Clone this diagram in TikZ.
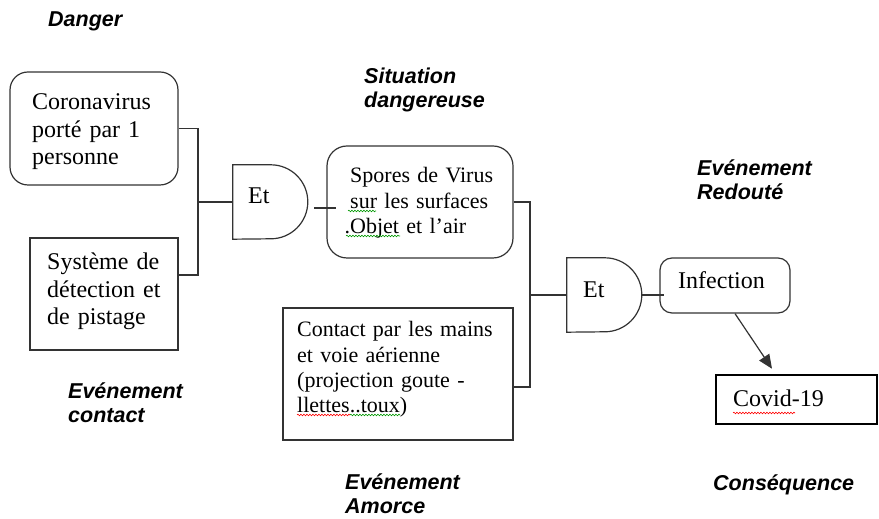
\documentclass[tikz,border=0pt]{standalone}
\usepackage{fontspec}
\setmainfont{Liberation Serif}
\setsansfont{Liberation Sans}
\usetikzlibrary{arrows.meta,decorations.pathmorphing,calc}
\begin{document}
\begin{tikzpicture}[x=1pt,y=1pt,
  box/.style={draw=black!80, line width=1.2pt, fill=white, inner sep=0},
  rbox/.style={box, rounded corners=#1},
  txtL/.style={anchor=base west, inner sep=0, text width=230pt, align=left, font=\fontsize{24}{27.5}\selectfont},
  txtS/.style={anchor=base west, inner sep=0, text width=230pt, align=left, font=\fontsize{22}{25.2}\selectfont},
  lab/.style={anchor=base west, inner sep=0, text width=200pt, align=left, font=\fontsize{21.5}{23.5}\selectfont\sffamily\bfseries\itshape},
  wire/.style={draw=black!80, line width=1.2pt},
  gatebox/.style={minimum width=75pt, minimum height=74pt, inner sep=0, draw=none},
  squig/.style={decorate, decoration={snake, amplitude=0.8pt, segment length=3pt}, line width=0.6pt}
]
\useasboundingbox[fill=white] (0,0) rectangle (879,519);

% boxes
\node[rbox=18pt, minimum width=168pt, minimum height=113pt] (corona) at (94,390.5) {};
\node[box, minimum width=148pt, minimum height=112pt] (systeme) at (104,225) {};
\node[rbox=20pt, minimum width=186pt, minimum height=112pt] (spores) at (420,317) {};
\node[box, minimum width=230pt, minimum height=132pt] (contact) at (398,145) {};
\node[rbox=12pt, minimum width=130pt, minimum height=55pt] (infection) at (725,233.5) {};
\node[draw=black, line width=2.5pt, fill=white, inner sep=0, minimum width=161pt, minimum height=49pt] (covid) at (796.5,119.5) {};

% gates
\node[gatebox] (g1) at (270.5,317) {};
\draw[wire] (g1.north west) -- ++(38,0) arc[start angle=90, end angle=-90, radius=37] -- (g1.south west) -- cycle;
\node[gatebox] (g2) at (604.5,224) {};
\draw[wire] (g2.north west) -- ++(38,0) arc[start angle=90, end angle=-90, radius=37] -- (g2.south west) -- cycle;

% texts
\node[txtL] (coronaT) at (32,409) {Coronavirus\\porté par 1\\personne};
\node[txtL] (systemeT) at (47,249) {Système de\\détection et\\de pistage};
\node[txtS] (sporesT) at (350,336) {Spores de Virus\\sur les surfaces\\\leavevmode\llap{.}Objet et l’air};
\node[txtS, font=\fontsize{22}{25.3}\selectfont] (contactT) at (297,182) {Contact par les mains\\et voie aérienne\\(projection goute -\\llettes..toux)};
\node[txtL] (g1t) at (248,315) {Et};
\node[txtL] (g2t) at (583,221) {Et};
\node[txtL] (infectionT) at (678,230) {Infection};
\node[txtL] (covidT) at (733,112) {Covid-19};

% spell-check squiggles
\draw[squig, red] (733,106) -- (795,106);
\draw[squig, green!60!black] (348,308) -- (376,308);
\draw[squig, green!60!black] (346,283) -- (400,283);
\draw[squig, red] (297,104) -- (350,104);
\draw[squig, green!60!black] (350,104) -- (400,104);

% connectors
\coordinate (j1) at (198,317);
\draw[wire] (corona.east) -| (j1) -- (g1.west);
\draw[wire] ([yshift=19]systeme.east) -| (j1);
\draw[wire] ([xshift=6,yshift=-6]g1.east) -- ([xshift=10,yshift=-6]spores.west);
\coordinate (j2) at (530,224);
\draw[wire] (spores.east) -| (j2) -- (g2.west);
\draw[wire] ([yshift=-13]contact.east) -| (j2);
\draw[wire] (g2.east) -- ([xshift=5]g2.east -| infection.west);
\draw[wire, -{Triangle[length=14pt,width=12pt]}] ([xshift=10]infection.south) -- ([xshift=-24.5,yshift=5]covid.north);

% labels
\node[lab] (danger) at (48,492) {Danger};
\node[lab] (situation) at (364,435) {Situation\\dangereuse};
\node[lab] (redoute) at (697,343) {Evénement\\Redouté};
\node[lab] (contactL) at (68,120) {Evénement\\contact};
\node[lab] (amorce) at (345,29) {Evénement\\Amorce};
\node[lab] (consequence) at (713,28) {Conséquence};
\end{tikzpicture}
\end{document}
